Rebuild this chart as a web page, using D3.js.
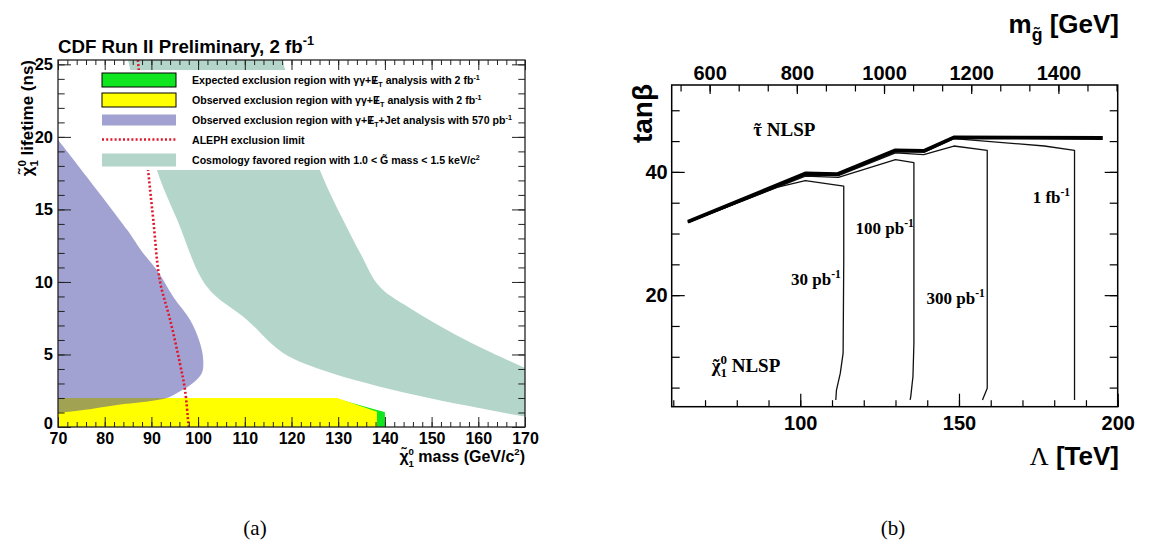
<!DOCTYPE html>
<html><head><meta charset="utf-8">
<script src="https://cdn.jsdelivr.net/npm/d3@7"></script>
<style>
html,body{margin:0;padding:0;background:#fff;}
svg{display:block;}
</style></head>
<body>
<svg id="fig" width="1155" height="549"></svg>
<script>
// ---------- Panel (a): neutralino mass vs lifetime exclusion regions ----------
const massTicks = [70, 80, 90, 100, 110, 120, 130, 140, 150, 160, 170];
const lifetimeTicks = [0, 5, 10, 15, 20, 25];

// [mass (GeV/c^2), lifetime (ns)]
const expectedRegion = [[70, 0], [70, 2.0], [129.2, 2.0], [138.3, 1.17], [139.4, 1.08], [140, 1.02], [140, 0]];
const observedRegion = [[70, 0], [70, 2.0], [129.8, 2.0], [138.3, 1.05], [138.3, 0]];
const jetRegionEdge = [[70, 19.8], [84.8, 13.6], [88.2, 12.0], [91.2, 10.8], [94.7, 8.97], [98.3, 7.38],
  [100.4, 5.79], [101.1, 4.62], [100.8, 3.72], [98.9, 3.03], [95.5, 2.34], [93.3, 2.0], [88.2, 1.72],
  [82.6, 1.52], [75.4, 1.17], [70, 0.97]];
const alephLimit = [[87.1, 25.3], [89.3, 17.7], [90.4, 14.3], [91.8, 10.1], [94.0, 7.4], [96.1, 4.4],
  [97.2, 2.55], [97.9, 0.28], [98.0, 0]];
const cosmoLower = [[85, 25.3], [91.2, 17.7], [95.5, 14.3], [101.9, 9.66], [110.5, 7.38], [118.2, 5.1],
  [128.2, 3.75], [138.9, 2.78], [149.7, 1.98], [160.4, 1.29], [170, 0.71]];
const cosmoUpper = [[118, 25.3], [126.1, 17.7], [131, 14.3], [134.7, 12.0], [138.9, 9.66], [146, 8.07],
  [153.3, 6.69], [160.4, 5.5], [170, 4.07]];

// ---------- Panel (b): tan(beta) vs Lambda reach ----------
const lambdaMinor = d3.range(60, 201, 10);
const lambdaLabelled = [100, 150, 200];
const tanbMinor = d3.range(5, 51, 5);
const tanbLabelled = [20, 40];
const gluinoLabelled = [600, 800, 1000, 1200, 1400];

// [Lambda (TeV), tan(beta)]
const stauBoundary = [[64.6, 31.9], [101.6, 39.74], [111.6, 39.63], [130.0, 43.5], [138.9, 43.4], [148.4, 45.6], [195.3, 45.5]];
const contour30pb = [[64.6, 31.8], [92.6, 37.5], [101.6, 38.6], [113.7, 37.7], [113.7, 25.7], [113.5, 10.6],
  [112.6, 7.3], [111.4, 4.6], [111.2, 3.0]];
const contour100pb = [[64.6, 31.8], [101.6, 39.3], [112, 39.1], [130, 42.0], [135.8, 41.5], [135.8, 12.2],
  [135.5, 6.8], [134.8, 3.5], [134.6, 3.0]];
const contour300pb = [[64.6, 31.8], [101.6, 39.5], [112, 39.4], [130, 43.1], [138.9, 42.8], [148.4, 44.2],
  [158.9, 43.5], [158.9, 4.9], [157.4, 3.0]];
const contour1fb = [[64.6, 31.8], [101.6, 39.6], [112, 39.5], [130, 43.3], [139, 43.2], [148.4, 45.4],
  [176.9, 44.2], [186.4, 43.5], [186.4, 3.0]];

const svg = d3.select('#fig');
const SANS = 'Liberation Sans, Arial, Helvetica, sans-serif';
const SERIF = 'Liberation Serif, Times New Roman, serif';

// text with sub/superscripts built from tspans; parts flagged "tilde" get an accent drawn above
function rich(parent, x, y, parts, o = {}) {
  const fs = o.size || 12;
  let tr = `translate(${x},${y})`;
  if (o.rotate) tr += ` rotate(${o.rotate})`;
  if (o.sx) tr += ` scale(${o.sx},1)`;
  const g = parent.append('g').attr('transform', tr);
  const fam = o.family || SANS, wt = o.weight || 'bold';
  const t = g.append('text')
    .attr('font-family', fam)
    .attr('font-weight', wt)
    .attr('font-size', fs)
    .attr('fill', o.fill || '#000')
    .attr('text-anchor', o.anchor || 'start');
  let cur = 0, idx = 0;
  const accents = [];
  parts.forEach(p => {
    if (typeof p === 'string') p = { t: p };
    const k = p.k || 'n';
    const target = k === 'sup' ? -0.42 * fs : k === 'sub' ? 0.3 * fs : 0;
    const size = k === 'n' ? fs : (p.small || 0.68) * fs;
    const ts = t.append('tspan').attr('font-size', size).text(p.t);
    if (p.family) ts.attr('font-family', p.family);
    if (p.weight) ts.attr('font-weight', p.weight);
    const dy = target - cur;
    if (dy) ts.attr('dy', dy);
    if (p.dx) ts.attr('dx', p.dx * fs);
    cur = target;
    if (p.tilde) accents.push({ i: idx, base: target, size });
    idx += p.t.length;
  });
  accents.forEach(a => {
    const e = t.node().getExtentOfChar(a.i);
    g.append('text').attr('x', e.x + e.width / 2).attr('y', a.base)
      .attr('font-family', fam).attr('font-weight', wt).attr('font-size', a.size)
      .attr('text-anchor', 'middle').attr('fill', o.fill || '#000').text('\u02DC');
  });
  return g;
}

function styleTicks(g, color, width) {
  g.select('.domain').remove();
  g.selectAll('.tick line').attr('stroke', color).attr('stroke-width', width);
}

// =================== Panel (a) ===================
const A = { left: 58, right: 525, top: 60, bottom: 427 };
const xA = d3.scaleLinear([70, 170], [A.left, A.right]);
const yA = d3.scaleLinear([0, 25.3], [A.bottom, A.top]);
const pa = svg.append('g');

pa.append('clipPath').attr('id', 'clipA').append('rect')
  .attr('x', A.left).attr('y', A.top).attr('width', A.right - A.left).attr('height', A.bottom - A.top);
const plotA = pa.append('g').attr('clip-path', 'url(#clipA)');

const lineA = d3.line().x(d => xA(d[0])).y(d => yA(d[1]));
const smoothA = d3.line().x(d => xA(d[0])).y(d => yA(d[1])).curve(d3.curveCatmullRom.alpha(0.5));

// cosmology-favoured band
const cosmoPath = smoothA(cosmoLower) + 'L' + smoothA(cosmoUpper.slice().reverse()).slice(1) + 'Z';
plotA.append('path').attr('d', cosmoPath).attr('fill', '#63a88f').attr('fill-opacity', 0.48);

// expected and observed diphoton exclusions
plotA.append('path').attr('d', lineA(expectedRegion) + 'Z').attr('fill', '#10e620');
plotA.append('path').attr('d', lineA(observedRegion) + 'Z').attr('fill', '#ffff00');

// photon+jet exclusion (translucent, shows olive over yellow)
plotA.append('path').attr('d', smoothA(jetRegionEdge) + 'Z').attr('fill', '#4646a6').attr('fill-opacity', 0.5);

// ALEPH limit
plotA.append('path').attr('d', smoothA(alephLimit)).attr('fill', 'none')
  .attr('stroke', '#e0162b').attr('stroke-width', 2.6).attr('stroke-dasharray', '2,2.2');

// legend
const leg = pa.append('g');
leg.append('rect').attr('x', 95).attr('y', 70).attr('width', 425).attr('height', 100).attr('fill', '#fff');
const legRows = [
  { kind: 'box', fill: '#10e620', cy: 80,
    parts: ['Expected exclusion region with \u03B3\u03B3+', 'E', { t: '/', dx: -0.47 }, { t: 'T', k: 'sub', dx: 0.19 }, ' analysis with 2 fb', { t: '-1', k: 'sup' }] },
  { kind: 'box', fill: '#ffff00', cy: 100,
    parts: ['Observed exclusion region with \u03B3\u03B3+', 'E', { t: '/', dx: -0.47 }, { t: 'T', k: 'sub', dx: 0.19 }, ' analysis with 2 fb', { t: '-1', k: 'sup' }] },
  { kind: 'hatch', fill: '#4646a6', cy: 120,
    parts: ['Observed exclusion region with \u03B3+', 'E', { t: '/', dx: -0.47 }, { t: 'T', k: 'sub', dx: 0.19 }, '+Jet analysis with 570 pb', { t: '-1', k: 'sup' }] },
  { kind: 'dots', cy: 139.5, parts: ['ALEPH exclusion limit'] },
  { kind: 'band', fill: '#63a88f', cy: 160,
    parts: ['Cosmology favored region with 1.0 < G\u0303 mass < 1.5 keV/c', { t: '2', k: 'sup' }] }
];
legRows.forEach(r => {
  if (r.kind === 'box') {
    leg.append('rect').attr('x', 102).attr('y', r.cy - 7).attr('width', 74).attr('height', 14)
      .attr('fill', r.fill).attr('stroke', '#000').attr('stroke-width', 1);
  } else if (r.kind === 'hatch') {
    leg.append('rect').attr('x', 102).attr('y', r.cy - 5.5).attr('width', 74).attr('height', 11)
      .attr('fill', r.fill).attr('fill-opacity', 0.5);
  } else if (r.kind === 'band') {
    leg.append('rect').attr('x', 102).attr('y', r.cy - 6.5).attr('width', 74).attr('height', 13)
      .attr('fill', r.fill).attr('fill-opacity', 0.48);
  } else {
    leg.append('line').attr('x1', 102).attr('x2', 176).attr('y1', r.cy).attr('y2', r.cy)
      .attr('stroke', '#e0162b').attr('stroke-width', 2.6).attr('stroke-dasharray', '2,2.2');
  }
  rich(leg, 192, r.cy + 4, r.parts, { size: 10.6 });
});

// frame and ticks
pa.append('rect').attr('x', A.left).attr('y', A.top).attr('width', A.right - A.left).attr('height', A.bottom - A.top)
  .attr('fill', 'none').attr('stroke', '#222').attr('stroke-width', 1.3);

const massMinor = d3.range(70, 171, 2);
const lifeMinor = d3.range(0, 26, 1);
[[d3.axisBottom, A.bottom], [d3.axisTop, A.top]].forEach(([ax, y0]) => {
  const gm = pa.append('g').attr('transform', `translate(0,${y0})`)
    .call(ax(xA).tickValues(massMinor).tickSize(-5).tickFormat(''));
  styleTicks(gm, '#222', 1);
  const gM = pa.append('g').attr('transform', `translate(0,${y0})`)
    .call(ax(xA).tickValues(massTicks).tickSize(-10).tickPadding(6).tickFormat(ax === d3.axisBottom ? d3.format('d') : ''));
  styleTicks(gM, '#222', 1);
  gM.selectAll('text').attr('font-family', SANS).attr('font-weight', 'bold').attr('font-size', 16).attr('fill', '#000');
});
[[d3.axisLeft, A.left], [d3.axisRight, A.right]].forEach(([ax, x0]) => {
  const gm = pa.append('g').attr('transform', `translate(${x0},0)`)
    .call(ax(yA).tickValues(lifeMinor).tickSize(-6.7).tickFormat(''));
  styleTicks(gm, '#222', 1);
  const gM = pa.append('g').attr('transform', `translate(${x0},0)`)
    .call(ax(yA).tickValues(lifetimeTicks).tickSize(-13).tickPadding(5).tickFormat(ax === d3.axisLeft ? d3.format('d') : ''));
  styleTicks(gM, '#222', 1);
  gM.selectAll('text').attr('font-family', SANS).attr('font-weight', 'bold').attr('font-size', 16.5).attr('fill', '#000');
  // the "0" sits just above the "70" of the mass axis
  gM.selectAll('.tick').filter(d => d === 0).select('text').attr('dy', '0.12em');
});

// titles
rich(pa, 58, 53, ['CDF Run II Preliminary, 2 fb', { t: '-1', k: 'sup' }], { size: 18.7 });
rich(pa, 525, 462, ['\u03C7\u0303', { t: '0', k: 'sup', small: 0.6 }, { t: '1', k: 'sub', dx: -0.34, small: 0.6 }, ' mass (GeV/c', { t: '2', k: 'sup', small: 0.6 }, { t: ')' }],
  { size: 16, anchor: 'end' });
rich(pa, 33, 60, ['\u03C7\u0303', { t: '0', k: 'sup' }, { t: '1', k: 'sub', dx: -0.38 }, ' lifetime (ns)'],
  { size: 17, anchor: 'end', rotate: -90 });

// =================== Panel (b) ===================
const B = { left: 671.7, right: 1117.7, top: 85, bottom: 406.7 };
const xB = d3.scaleLinear([59.5, 200], [B.left, B.right]);
const yB = d3.scaleLinear([1.9, 54.1], [B.bottom, B.top]);
const xTop = d3.scaleLinear([513, 1536], [B.left, B.right]);
const pb = svg.append('g');
const lineB = d3.line().x(d => xB(d[0])).y(d => yB(d[1]));

[contour30pb, contour100pb, contour300pb, contour1fb].forEach(c => {
  pb.append('path').attr('d', lineB(c)).attr('fill', 'none').attr('stroke', '#111')
    .attr('stroke-width', 1.3).attr('stroke-linejoin', 'round');
});
pb.append('path').attr('d', lineB(stauBoundary)).attr('fill', 'none').attr('stroke', '#000')
  .attr('stroke-width', 3.8).attr('stroke-linejoin', 'round');

pb.append('rect').attr('x', B.left).attr('y', B.top).attr('width', B.right - B.left).attr('height', B.bottom - B.top)
  .attr('fill', 'none').attr('stroke', '#000').attr('stroke-width', 1.5);

[[d3.axisBottom, B.bottom], [d3.axisTop, B.top]].forEach(([ax, y0]) => {
  if (ax === d3.axisBottom) {
    const gm = pb.append('g').attr('transform', `translate(0,${y0})`)
      .call(ax(xB).tickValues(lambdaMinor).tickSize(-6.5).tickFormat(''));
    styleTicks(gm, '#000', 1.2);
    const gM = pb.append('g').attr('transform', `translate(0,${y0})`)
      .call(ax(xB).tickValues(lambdaLabelled).tickSize(-13).tickPadding(9).tickFormat(d3.format('d')));
    styleTicks(gM, '#000', 1.2);
    gM.selectAll('text').attr('font-family', SANS).attr('font-weight', 'bold').attr('font-size', 20).attr('fill', '#000');
  } else {
    const gluinoMinor = d3.range(0, 16).map(i => 600 - 200 / 3 + i * 200 / 3).filter(v => v > 513 && v < 1536);
    const gm = pb.append('g').attr('transform', `translate(0,${y0})`)
      .call(ax(xTop).tickValues(gluinoMinor).tickSize(-6.5).tickFormat(''));
    styleTicks(gm, '#000', 1.2);
    const gM = pb.append('g').attr('transform', `translate(0,${y0})`)
      .call(ax(xTop).tickValues(gluinoLabelled).tickSize(-9).tickPadding(5).tickFormat(d3.format('d')));
    styleTicks(gM, '#000', 1.2);
    gM.selectAll('text').attr('font-family', SANS).attr('font-weight', 'bold').attr('font-size', 20).attr('fill', '#000');
  }
});
[[d3.axisLeft, B.left], [d3.axisRight, B.right]].forEach(([ax, x0]) => {
  const gm = pb.append('g').attr('transform', `translate(${x0},0)`)
    .call(ax(yB).tickValues(tanbMinor).tickSize(-8).tickFormat(''));
  styleTicks(gm, '#000', 1.2);
  const gM = pb.append('g').attr('transform', `translate(${x0},0)`)
    .call(ax(yB).tickValues(tanbLabelled).tickSize(-13).tickPadding(4).tickFormat(ax === d3.axisLeft ? d3.format('d') : ''));
  styleTicks(gM, '#000', 1.2);
  gM.selectAll('text').attr('font-family', SANS).attr('font-weight', 'bold').attr('font-size', 20).attr('fill', '#000');
});

// axis titles
rich(pb, 652, 84, ['tan\u03B2'], { size: 28, anchor: 'end', rotate: -90 });
rich(pb, 1119, 465, [{ t: '\u039B', family: SERIF, weight: 'normal' }, ' [TeV]'], { size: 26, anchor: 'end' });
rich(pb, 1119, 33, ['m', { t: 'g\u0303', k: 'sub' }, ' [GeV]'], { size: 26, anchor: 'end' });

// region and luminosity annotations (placed in data coordinates)
const regionLabels = [
  { parts: [{ t: '\u03C4', tilde: true }, ' NLSP'], lam: 85.2, tb: 45.8 },
  { parts: [{ t: '\u03C7', tilde: true }, { t: '0', k: 'sup' }, { t: '1', k: 'sub', dx: -0.34 }, ' NLSP'], lam: 72.1, tb: 7.6 }
];
regionLabels.forEach(l => rich(pb, xB(l.lam), yB(l.tb), l.parts, { size: 19, family: SERIF }));
const lumiLabels = [
  { txt: '30 pb', lam: 97.1, tb: 21.6 },
  { txt: '100 pb', lam: 117.4, tb: 29.9 },
  { txt: '300 pb', lam: 139.8, tb: 18.5 },
  { txt: '1 fb', lam: 173.2, tb: 34.9 }
];
lumiLabels.forEach(l => rich(pb, xB(l.lam), yB(l.tb), [l.txt, { t: '-1', k: 'sup' }], { size: 17, family: SERIF }));

// sub-figure captions
rich(svg, 255, 535, ['(a)'], { size: 21, family: SERIF, weight: 'normal', anchor: 'middle' });
rich(svg, 893, 535, ['(b)'], { size: 21, family: SERIF, weight: 'normal', anchor: 'middle' });
</script>
</body></html>
